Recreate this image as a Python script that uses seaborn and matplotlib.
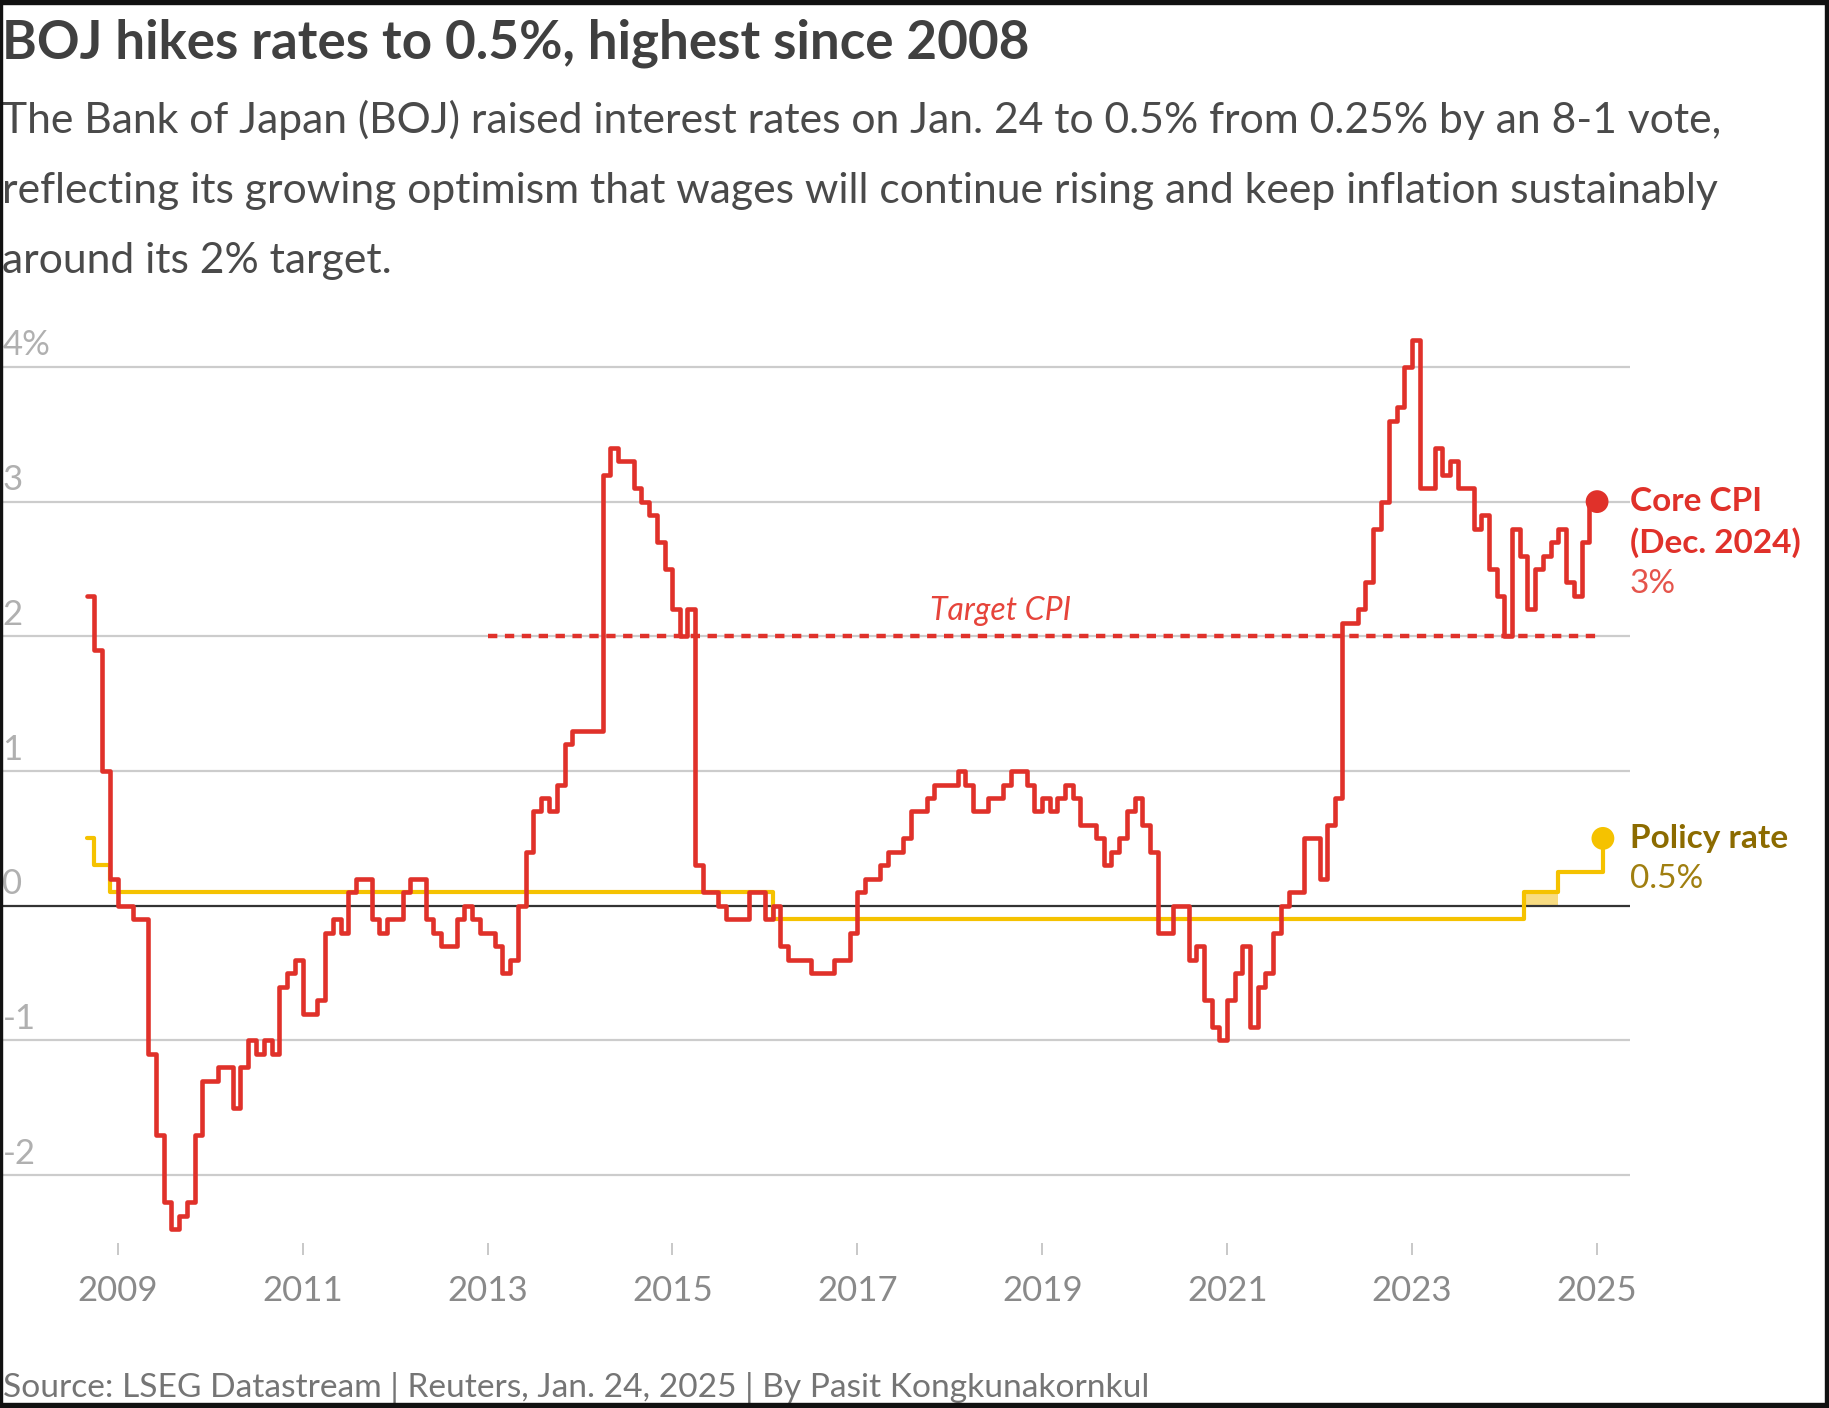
import numpy as np
import pandas as pd
import seaborn as sns
import matplotlib.pyplot as plt

# core CPI, y/y %, monthly from Sep 2008 to Dec 2024
core_cpi = [
    2.3, 1.9, 1.0, 0.2,
    0.0, 0.0, -0.1, -0.1, -1.1, -1.7, -2.2, -2.4, -2.3, -2.2, -1.7, -1.3,
    -1.3, -1.2, -1.2, -1.5, -1.2, -1.0, -1.1, -1.0, -1.1, -0.6, -0.5, -0.4,
    -0.8, -0.8, -0.7, -0.2, -0.1, -0.2, 0.1, 0.2, 0.2, -0.1, -0.2, -0.1,
    -0.1, 0.1, 0.2, 0.2, -0.1, -0.2, -0.3, -0.3, -0.1, 0.0, -0.1, -0.2,
    -0.2, -0.3, -0.5, -0.4, 0.0, 0.4, 0.7, 0.8, 0.7, 0.9, 1.2, 1.3,
    1.3, 1.3, 1.3, 3.2, 3.4, 3.3, 3.3, 3.1, 3.0, 2.9, 2.7, 2.5,
    2.2, 2.0, 2.2, 0.3, 0.1, 0.1, 0.0, -0.1, -0.1, -0.1, 0.1, 0.1,
    -0.1, 0.0, -0.3, -0.4, -0.4, -0.4, -0.5, -0.5, -0.5, -0.4, -0.4, -0.2,
    0.1, 0.2, 0.2, 0.3, 0.4, 0.4, 0.5, 0.7, 0.7, 0.8, 0.9, 0.9,
    0.9, 1.0, 0.9, 0.7, 0.7, 0.8, 0.8, 0.9, 1.0, 1.0, 0.9, 0.7,
    0.8, 0.7, 0.8, 0.9, 0.8, 0.6, 0.6, 0.5, 0.3, 0.4, 0.5, 0.7,
    0.8, 0.6, 0.4, -0.2, -0.2, 0.0, 0.0, -0.4, -0.3, -0.7, -0.9, -1.0,
    -0.7, -0.5, -0.3, -0.9, -0.6, -0.5, -0.2, 0.0, 0.1, 0.1, 0.5, 0.5,
    0.2, 0.6, 0.8, 2.1, 2.1, 2.2, 2.4, 2.8, 3.0, 3.6, 3.7, 4.0,
    4.2, 3.1, 3.1, 3.4, 3.2, 3.3, 3.1, 3.1, 2.8, 2.9, 2.5, 2.3,
    2.0, 2.8, 2.6, 2.2, 2.5, 2.6, 2.7, 2.8, 2.4, 2.3, 2.7, 3.0,
]
cpi_start = '2008-09-01'

# BOJ policy rate changes
policy_dates = ['2008-09-01', '2008-10-01', '2008-12-01', '2016-02-01',
                '2024-03-19', '2024-07-31', '2025-01-24']
policy_rate = [0.5, 0.3, 0.1, -0.1, 0.1, 0.25, 0.5]
# 0-0.1% target range between the March and July 2024 hikes
range_dates = ['2024-03-19', '2024-07-31']
range_low, range_high = 0.0, 0.1

target_cpi = 2.0
target_dates = ['2013-01-01', '2025-01-01']

y_ticks = [4, 3, 2, 1, 0, -1, -2]
y_labels = ['4%', '3', '2', '1', '0', '-1', '-2']
x_years = list(range(2009, 2026, 2))

title = 'BOJ hikes rates to 0.5%, highest since 2008'
subtitle = ['The Bank of Japan (BOJ) raised interest rates on Jan. 24 to 0.5% from 0.25% by an 8-1 vote,',
            'reflecting its growing optimism that wages will continue rising and keep inflation sustainably',
            'around its 2% target.']
source = 'Source: LSEG Datastream | Reuters, Jan. 24, 2025 | By Pasit Kongkunakornkul'

RED = '#e0312a'
YELLOW = '#f5c200'

sns.set_theme(style='white')
plt.rcParams['font.family'] = ['Lato', 'DejaVu Sans']

W, H = 1829, 1408
fig = plt.figure(figsize=(W / 100, H / 100), dpi=100)
ax = fig.add_axes([0, 1 - 1242.5 / H, 1630 / W, (1242.5 - 326.5) / H])

# step data: month edges, last value held to the end of its month
cpi_edges = pd.date_range(cpi_start, periods=len(core_cpi) + 1, freq='MS')
cpi_df = pd.DataFrame({'date': cpi_edges, 'cpi': core_cpi + [core_cpi[-1]]})
pol_df = pd.DataFrame({'date': pd.to_datetime(policy_dates), 'rate': policy_rate})

for v in y_ticks:
    if v != 0:
        ax.axhline(v, color='#cccccc', lw=1.6, zorder=1)
ax.fill_between(pd.to_datetime(range_dates), range_low, range_high,
                color='#f8dc82', lw=0, zorder=2)
ax.axhline(0, color='#333333', lw=1.6, zorder=3)

ax.hlines(target_cpi, pd.Timestamp(target_dates[0]), pd.Timestamp(target_dates[1]),
          colors=RED, lw=3.2, linestyles=[(0, (2.1, 1.7))], zorder=4)
ax.text(pd.Timestamp('2018-07-20'), target_cpi + 0.12, 'Target CPI', color='#e6443b',
        fontsize=23, fontstyle='italic', ha='center', va='baseline')

sns.lineplot(data=pol_df, x='date', y='rate', drawstyle='steps-post', color=YELLOW,
             lw=3.0, ax=ax, zorder=5)
sns.lineplot(data=cpi_df, x='date', y='cpi', drawstyle='steps-post', color=RED,
             lw=3.3, ax=ax, zorder=6)
sns.scatterplot(x=[cpi_edges[-1]], y=[core_cpi[-1]], s=270, color=RED, edgecolor='none',
                ax=ax, zorder=7)
sns.scatterplot(x=[pd.Timestamp(policy_dates[-1])], y=[policy_rate[-1]], s=270, color=YELLOW,
                edgecolor='none', ax=ax, zorder=7)

ax.set_ylim(-2.5, 4.3)
ax.set_xlim(pd.Timestamp('2007-09-24'), pd.Timestamp('2025-05-11'))
ax.set_xlabel('')
ax.set_ylabel('')
ax.set_yticks([])
ax.set_xticks([pd.Timestamp(f'{y}-01-01') for y in x_years])
ax.set_xticklabels([str(y) for y in x_years])
ax.tick_params(axis='x', bottom=True, length=8.5, width=1.4, color='#c8c8c8', pad=15,
               labelsize=25, labelcolor='#8a8a8a')
for s in ax.spines.values():
    s.set_visible(False)
ax.patch.set_alpha(0)

for v, lab in zip(y_ticks, y_labels):
    ax.text(0.0015, v + 0.085, lab, transform=ax.get_yaxis_transform(), color='#b0b0b0',
            fontsize=25, va='baseline', ha='left')

# end labels
ax.annotate('Core CPI', xy=(1.0, core_cpi[-1]), xycoords=('axes fraction', 'data'),
            color=RED, fontsize=24, fontweight='bold', va='center', ha='left')
ax.annotate('(Dec. 2024)', xy=(1.0, core_cpi[-1]), xycoords=('axes fraction', 'data'),
            xytext=(0, -29.5), textcoords='offset points',
            color=RED, fontsize=24, fontweight='bold', va='center', ha='left')
ax.annotate('3%', xy=(1.0, core_cpi[-1]), xycoords=('axes fraction', 'data'),
            xytext=(0, -59), textcoords='offset points',
            color='#e5544b', fontsize=24, va='center', ha='left')
ax.annotate('Policy rate', xy=(1.0, policy_rate[-1]), xycoords=('axes fraction', 'data'),
            color='#8c6b00', fontsize=24, fontweight='bold', va='center', ha='left')
ax.annotate('0.5%', xy=(1.0, policy_rate[-1]), xycoords=('axes fraction', 'data'),
            xytext=(0, -29.5), textcoords='offset points',
            color='#a07f10', fontsize=24, va='center', ha='left')

fig.text(2 / W, 1 - 59 / H, title, fontsize=38.2, fontweight='bold', color='#404040',
         va='baseline', ha='left')
for i, line in enumerate(subtitle):
    fig.text(2 / W, 1 - (133 + 70 * i) / H, line, fontsize=30.7, color='#4a4a4a',
             va='baseline', ha='left')
fig.text(3 / W, 1 - 1397 / H, source, fontsize=24.1, color='#757575',
         va='baseline', ha='left')

# screenshot frame
for rect in [(0, 0, 1, 5 / H), (0, 1 - 4 / H, 1, 4 / H), (0, 0, 1.5 / W, 1), (1 - 4 / W, 0, 4 / W, 1)]:
    fig.patches.append(plt.Rectangle(rect[:2], rect[2], rect[3], transform=fig.transFigure,
                                     color='#111111', zorder=10))

fig.savefig('out.png', dpi=100)
